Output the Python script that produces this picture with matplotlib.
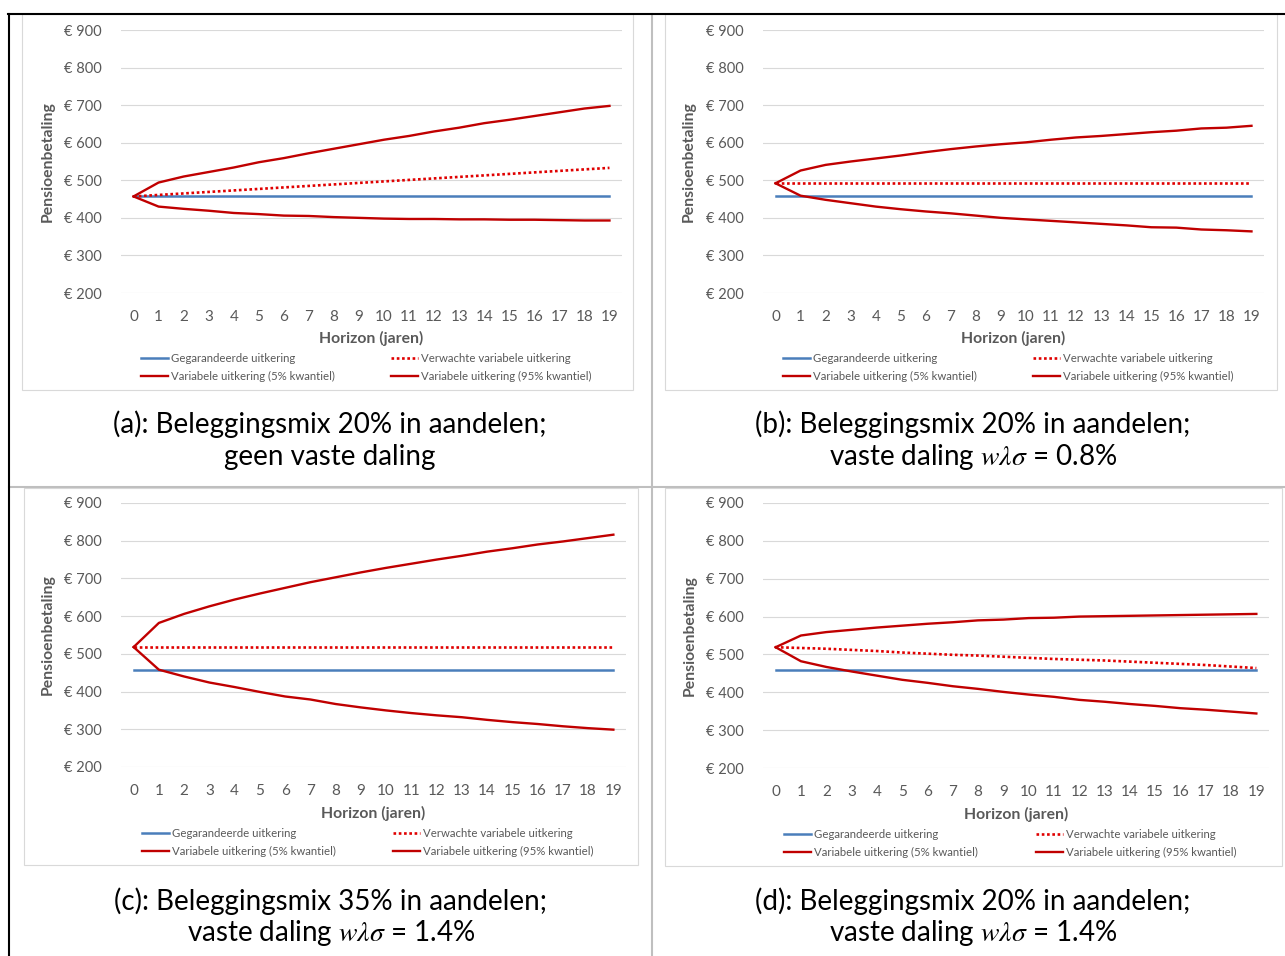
import matplotlib
matplotlib.use('Agg')
import matplotlib.pyplot as plt
from matplotlib.lines import Line2D
from matplotlib.patches import Rectangle

plt.rcParams['font.family'] = ['Lato', 'DejaVu Sans']
plt.rcParams['mathtext.fontset'] = 'stix'

W, H, DPI = 1285, 956, 100

# ---------------- data ----------------
years = list(range(20))
y_ticks = [200, 300, 400, 500, 600, 700, 800, 900]
y_tick_labels = ['€ 200', '€ 300', '€ 400', '€ 500', '€ 600', '€ 700', '€ 800', '€ 900']

label_guar = 'Gegarandeerde uitkering'
label_exp = 'Verwachte variabele uitkering'
label_p5 = 'Variabele uitkering (5% kwantiel)'
label_p95 = 'Variabele uitkering (95% kwantiel)'

# (a) 20% aandelen, geen vaste daling
guar_a = [457, 457, 457, 457, 457, 457, 457, 457, 457, 457, 457, 457, 457, 457, 457, 457, 457, 457, 457, 457]
exp_a = [457, 461, 465, 469, 473, 477, 481, 485, 489, 493, 497, 501, 505, 509, 513, 517, 521, 525, 529, 533]
p5_a = [457, 430, 424, 419, 413, 410, 406, 405, 402, 400, 398, 397, 397, 396, 396, 395, 395, 394, 393, 393]
p95_a = [457, 494, 510, 522, 534, 548, 559, 572, 584, 596, 608, 618, 630, 640, 652, 661, 671, 681, 691, 698]

# (b) 20% aandelen, vaste daling 0.8%
guar_b = [457, 457, 457, 457, 457, 457, 457, 457, 457, 457, 457, 457, 457, 457, 457, 457, 457, 457, 457, 457]
exp_b = [492, 492, 492, 492, 492, 492, 492, 492, 492, 492, 492, 492, 492, 492, 492, 492, 492, 492, 492, 492]
p5_b = [492, 459, 448, 439, 430, 423, 417, 412, 406, 400, 396, 392, 388, 384, 380, 375, 374, 369, 367, 364]
p95_b = [492, 526, 541, 550, 558, 566, 575, 583, 590, 596, 601, 608, 614, 618, 623, 628, 632, 638, 640, 645]

# (c) 35% aandelen, vaste daling 1.4%
guar_c = [457, 457, 457, 457, 457, 457, 457, 457, 457, 457, 457, 457, 457, 457, 457, 457, 457, 457, 457, 457]
exp_c = [518, 518, 518, 518, 518, 518, 518, 518, 518, 518, 518, 518, 518, 518, 518, 518, 518, 518, 518, 518]
p5_c = [518, 458, 440, 424, 412, 399, 387, 379, 367, 358, 350, 343, 337, 332, 325, 319, 314, 308, 303, 299]
p95_c = [518, 582, 606, 626, 644, 660, 675, 690, 703, 716, 728, 739, 750, 760, 771, 780, 790, 798, 807, 816]

# (d) 20% aandelen, vaste daling 1.4%
guar_d = [458, 458, 458, 458, 458, 458, 458, 458, 458, 458, 458, 458, 458, 458, 458, 458, 458, 458, 458, 458]
exp_d = [519, 517, 515, 512, 509, 505, 502, 499, 497, 494, 491, 488, 486, 484, 481, 478, 475, 472, 468, 464]
p5_d = [519, 482, 467, 455, 444, 433, 425, 416, 409, 401, 394, 388, 380, 375, 369, 364, 358, 354, 349, 344]
p95_d = [519, 550, 559, 565, 571, 576, 581, 585, 590, 592, 596, 597, 600, 601, 602, 603, 604, 605, 606, 607]

captions = [
    ('(a): Beleggingsmix 20% in aandelen;', 'geen vaste daling'),
    ('(b): Beleggingsmix 20% in aandelen;', r'vaste daling $w\lambda\sigma$ = 0.8%'),
    ('(c): Beleggingsmix 35% in aandelen;', r'vaste daling $w\lambda\sigma$ = 1.4%'),
    ('(d): Beleggingsmix 20% in aandelen;', r'vaste daling $w\lambda\sigma$ = 1.4%'),
]
series = [
    (guar_a, exp_a, p5_a, p95_a),
    (guar_b, exp_b, p5_b, p95_b),
    (guar_c, exp_c, p5_c, p95_c),
    (guar_d, exp_d, p5_d, p95_d),
]

# ---------------- layout (pixels) ----------------
axes_px = [(121, 30, 622, 293), (763, 30, 1264, 293), (121, 503, 626, 767), (763, 503, 1269, 768)]
ylabel_x = [48, 689, 48, 690]
xlabel_y = [338, 338, 813, 814]
legend_rows = [359, 359, 834, 835]
legend_cols = [(141, 391), (783, 1033), (142, 393), (784, 1036)]
caption_pos = [(330, 424, 457), (973, 424, 457), (331, 901, 933), (973, 901, 933)]
frames = [(22, 14, 633, 390), (665, 14, 1277, 390), (24, 488, 638, 865), (665, 488, 1282, 866)]

BLUE = '#4A7EBB'
RED = '#C00000'
RED_DOT = '#E00000'
GREY_TXT = '#595959'
GRID = '#D9D9D9'

fig = plt.figure(figsize=(W / DPI, H / DPI), dpi=DPI)
fig.patch.set_facecolor('white')


def fx(px):
    return px / W


def fy(py):
    return 1 - py / H


# background overlay for table borders and chart frames
bg = fig.add_axes([0, 0, 1, 1], zorder=0)
bg.set_xlim(0, W)
bg.set_ylim(H, 0)
bg.axis('off')
for (l, t, r, b) in frames:
    bg.add_patch(Rectangle((l, t), r - l, b - t, fill=False, edgecolor='#D9D9D9', lw=0.8))
bg.plot([9, 1285], [487, 487], color='#BFBFBF', lw=1.5)
bg.plot([652, 652], [14, 956], color='#BFBFBF', lw=1.5)
bg.plot([8, 1285], [14, 14], color='black', lw=1.5)
bg.plot([8.5, 8.5], [14, 956], color='black', lw=1.5)

for i in range(4):
    l, t, r, b = axes_px[i]
    ax = fig.add_axes([fx(l), fy(b), (r - l) / W, (b - t) / H], zorder=1)
    ax.set_facecolor('none')
    guar, exp_, p5, p95 = series[i]
    h_g, = ax.plot(years, guar, color=BLUE, lw=1.8, label=label_guar, zorder=3)
    h_e, = ax.plot(years, exp_, color=RED_DOT, lw=1.9, ls=(0, (1, 1)), label=label_exp, zorder=4)
    h_5, = ax.plot(years, p5, color=RED, lw=1.7, label=label_p5, zorder=5)
    h_95, = ax.plot(years, p95, color=RED, lw=1.7, label=label_p95, zorder=5)

    ax.set_xlim(-0.5, 19.5)
    ax.set_ylim(200, 900)
    ax.set_yticks(y_ticks)
    ax.set_yticklabels(y_tick_labels)
    ax.set_xticks(years)
    ax.set_xticklabels([str(v) for v in years])
    for s in ax.spines.values():
        s.set_visible(False)
    ax.yaxis.grid(True, color=GRID, lw=0.8)
    ax.set_axisbelow(True)
    ax.tick_params(axis='both', length=0, labelsize=10.5, colors=GREY_TXT)
    ax.tick_params(axis='x', labelsize=11)
    ax.tick_params(axis='y', pad=14)
    ax.tick_params(axis='x', pad=12)

    ax.set_xlabel('Horizon (jaren)', fontsize=11.3, fontweight='bold', color=GREY_TXT, va='center')
    ax.xaxis.set_label_coords(0.5, (b - xlabel_y[i]) / (b - t))
    ax.set_ylabel('Pensioenbetaling', fontsize=11.3, fontweight='bold', color=GREY_TXT, va='center')
    ax.yaxis.set_label_coords((ylabel_x[i] - l) / (r - l), 0.5)

    top = legend_rows[i] - 6
    c1, c2 = legend_cols[i]
    kw = dict(loc='upper left', frameon=False, fontsize=8.2, labelcolor=GREY_TXT,
              handlelength=2.35, handletextpad=0.3, labelspacing=0.62,
              borderpad=0, borderaxespad=0, bbox_transform=fig.transFigure)
    leg1 = ax.legend([h_g, h_5], [label_guar, label_p5], bbox_to_anchor=(fx(c1), fy(top)), **kw)
    ax.add_artist(leg1)
    ax.legend([h_e, h_95], [label_exp, label_p95], bbox_to_anchor=(fx(c2), fy(top)), **kw)

    cx, y1, y2 = caption_pos[i]
    fig.text(fx(cx), fy(y1), captions[i][0], ha='center', va='center', fontsize=20, color='black')
    fig.text(fx(cx), fy(y2), captions[i][1], ha='center', va='center', fontsize=20, color='black')

fig.savefig('out.png', dpi=DPI)
